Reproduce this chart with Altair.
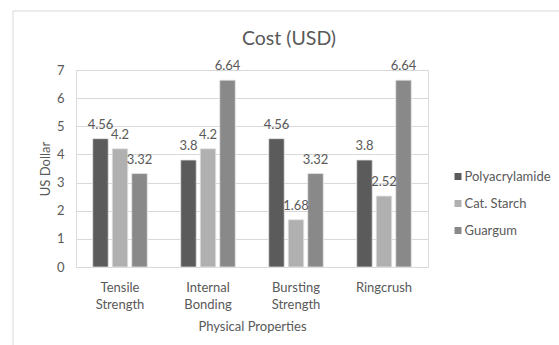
import altair as alt
import pandas as pd

categories = ["Tensile Strength", "Internal Bonding", "Bursting Strength", "Ringcrush"]
series = ["Polyacrylamide", "Cat. Starch", "Guargum"]
polyacrylamide = [4.56, 3.8, 4.56, 3.8]
cat_starch = [4.2, 4.2, 1.68, 2.52]
guargum = [3.32, 6.64, 3.32, 6.64]
colors = ["#5b5b5b", "#b0b0b0", "#898989"]
title_text = "Cost (USD)"

rows = []
for s, vals in zip(series, [polyacrylamide, cat_starch, guargum]):
    for c, v in zip(categories, vals):
        rows.append({"cat": c, "series": s, "value": v, "label": f"{v:g}"})
df = pd.DataFrame(rows)

FONT = "Lato"
TXT = "#595959"
FS = 13

xenc = alt.X("cat:N", sort=categories, title="Physical Properties",
             scale=alt.Scale(paddingInner=0.38, paddingOuter=0.19),
             axis=alt.Axis(labelAngle=0, ticks=False, domainColor="#d9d9d9",
                           labelExpr="split(datum.label, ' ')",
                           labelLineHeight=17, labelPadding=14,
                           labelFontSize=FS, titleFontSize=FS, titlePadding=9,
                           labelColor=TXT, titleColor=TXT, labelFont=FONT, titleFont=FONT,
                           titleFontWeight="normal"))
xoff = alt.XOffset("series:N", sort=series, scale=alt.Scale(paddingInner=0.205, paddingOuter=0))
yenc = alt.Y("value:Q", title="US Dollar",
             scale=alt.Scale(domain=[0, 7], nice=False),
             axis=alt.Axis(values=[0, 1, 2, 3, 4, 5, 6, 7], ticks=False, domain=False,
                           gridColor="#d9d9d9", labelPadding=12, labelOverlap=False,
                           labelFontSize=FS, titleFontSize=FS, titlePadding=4,
                           labelColor=TXT, titleColor=TXT, labelFont=FONT, titleFont=FONT,
                           titleFontWeight="normal"))

base = alt.Chart(df)

bars = base.mark_bar(stroke="#e6e6e6", strokeWidth=0.75).encode(
    x=xenc, xOffset=xoff, y=yenc,
    color=alt.Color("series:N", sort=series, title=None,
                    scale=alt.Scale(domain=series, range=colors),
                    legend=alt.Legend(orient="none", legendX=375.5, legendY=100,
                                      symbolType="square", symbolSize=49,
                                      symbolStrokeWidth=0, labelFontSize=FS,
                                      labelFont=FONT, labelColor=TXT,
                                      labelOffset=0, rowPadding=13)),
)

labels = base.mark_text(baseline="alphabetic", dy=-10, fontSize=FS, font=FONT, color=TXT).encode(
    x=xenc, xOffset=xoff, y=yenc, text="label:N",
)

border = alt.Chart(pd.DataFrame({"a": [0]})).mark_rect(
    fill=None, stroke="#d9d9d9", strokeWidth=1).encode(
    x=alt.value(-63), x2=alt.value(495), y=alt.value(-59), y2=alt.value(300))

title = alt.Chart(pd.DataFrame({"t": [title_text]})).mark_text(
    fontSize=19.5, font=FONT, color=TXT, align="center", baseline="middle").encode(
    text="t:N", x=alt.value(213), y=alt.value(-31))

chart = alt.layer(border, bars, labels, title).properties(
    width=352, height=197,
    autosize=alt.AutoSizeParams(type="none"),
    padding={"left": 76, "top": 70, "right": 131, "bottom": 78},
).configure_view(stroke=None).configure(background="white")

chart.save("out.html", embed_options={"renderer": "svg", "actions": False})
